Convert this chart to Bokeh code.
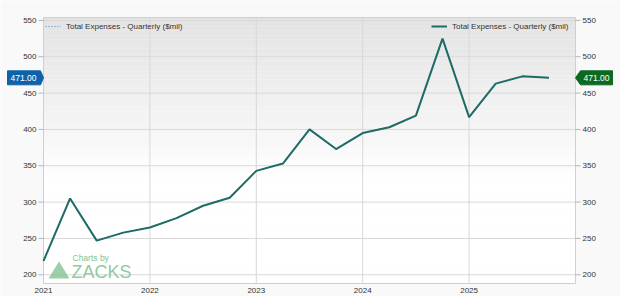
from bokeh.plotting import figure
from bokeh.models import (Legend, LegendItem, Label, PolyAnnotation, Range1d,
                          ColumnDataSource)
from bokeh.core.properties import value
from bokeh.embed import file_html
from bokeh.resources import INLINE

# ---- data ----
quarter_x = [2021.0, 2021.25, 2021.5, 2021.75,
             2022.0, 2022.25, 2022.5, 2022.75,
             2023.0, 2023.25, 2023.5, 2023.75,
             2024.0, 2024.25, 2024.5, 2024.75,
             2025.0, 2025.25, 2025.5, 2025.75]
expenses = [219, 305, 247, 258,
            265, 278, 295, 306,
            343, 353, 400, 373,
            395, 403, 419, 525,
            417, 463, 473, 471]
year_ticks = [2021, 2022, 2023, 2024, 2025]
year_labels = ["2021", "2022", "2023", "2024", "2025"]
value_ticks = [200, 250, 300, 350, 400, 450, 500, 550]
value_labels = ["200", "250", "300", "350", "400", "450", "500", "550"]
series_name = "Total Expenses - Quarterly ($mil)"

FONT = "Liberation Sans"
TXT = "#333333"
LINE_COLOR = "#1f6b66"
BLUE = "#0f62a8"
GREEN = "#0b6a22"
GRID = "#d8d8d8"

W, H = 620, 296
# plot-area margins (pixels)
ML, MR, MT, MB = 43, 45, 17, 13
FW, FH = W - ML - MR, H - MT - MB

# plot-area data extent
x0, x1 = 2021.0, 2026.0
y0, y1 = 188.0, 554.0
ux = (x1 - x0) / FW   # data units per pixel
uy = (y1 - y0) / FH

p = figure(width=W, height=H, output_backend="svg", toolbar_location=None,
           x_range=Range1d(x0 - ML * ux, x1 + MR * ux),
           y_range=Range1d(y0 - MB * uy, y1 + MT * uy),
           x_axis_type=None, y_axis_type=None, min_border=0)
p.border_fill_color = "#f9f9f9"
p.background_fill_color = "#f9f9f9"
p.outline_line_color = None
p.xgrid.visible = False
p.ygrid.visible = False

# plot-area background gradient (grey at top -> white)
nb = 60
tops, bots, cols = [], [], []
for i in range(nb):
    b = y0 + (y1 - y0) * i / nb
    t = y0 + (y1 - y0) * (i + 1) / nb
    frac = (i + 0.5) / nb
    s = max(0.0, (frac - 0.4) / 0.6)
    g = int(round(255 - 28 * s ** 0.9))
    tops.append(t); bots.append(b); cols.append("#%02x%02x%02x" % (g, g, g))
p.quad(left=x0, right=x1, top=tops, bottom=bots, fill_color=cols, line_color=None)

# grid lines
p.segment(x0=year_ticks, x1=year_ticks, y0=y0, y1=y1, line_color=GRID, line_width=1)
p.segment(x0=x0, x1=x1, y0=value_ticks, y1=value_ticks, line_color=GRID, line_width=1)
# frame border
p.quad(left=x0, right=x1, top=y1, bottom=y0, fill_color=None, line_color="#cfcfcf",
       line_width=1)

# y tick marks (both sides)
p.segment(x0=x0 - 5 * ux, x1=x0, y0=value_ticks, y1=value_ticks, line_color="#b5b5b5")
p.segment(x0=x1, x1=x1 + 5 * ux, y0=value_ticks, y1=value_ticks, line_color="#b5b5b5")

txt_kw = dict(text_font=value(FONT), text_font_size=value("8px"), text_color=TXT)
# left y labels
p.text(x=x0 - 7 * ux, y=value_ticks, text=value_labels, text_align="right",
       text_baseline="middle", **txt_kw)
# right y labels
p.text(x=x1 + 7 * ux, y=value_ticks, text=value_labels, text_align="left",
       text_baseline="middle", **txt_kw)
# x labels
p.text(x=year_ticks, y=y0 - 6.5 * uy, text=year_labels, text_align="center",
       text_baseline="middle", **txt_kw)

# series
src = ColumnDataSource(dict(x=quarter_x, y=expenses))
r_blue = p.line("x", "y", source=src, line_color="#4a86cc", line_width=1.2,
                line_dash="1 2")
r_green = p.line("x", "y", source=src, line_color=LINE_COLOR, line_width=2)

def mk_legend(item, loc):
    return Legend(items=[item], location=loc, border_line_color=None,
                  background_fill_alpha=0, label_text_font=FONT,
                  label_text_font_size="8px", label_text_color=TXT,
                  glyph_width=16, glyph_height=8, label_standoff=5,
                  padding=2, margin=0, spacing=0, label_height=10)

p.add_layout(mk_legend(LegendItem(label=series_name, renderers=[r_blue]), (ML + 2, H - 31)))
p.add_layout(mk_legend(LegendItem(label=series_name, renderers=[r_green]), (431, H - 31)))

# last-value tags
last = expenses[-1]
h = 7 * uy
tag_txt = f"{last:.2f}"
p.add_layout(PolyAnnotation(
    xs=[x0 - 36 * ux, x0 - 3 * ux, x0, x0 - 3 * ux, x0 - 36 * ux],
    ys=[last + h, last + h, last, last - h, last - h],
    fill_color=BLUE, fill_alpha=1, line_color=BLUE, line_alpha=1))
p.add_layout(PolyAnnotation(
    xs=[x1, x1 + 5 * ux, x1 + 37 * ux, x1 + 37 * ux, x1 + 5 * ux],
    ys=[last, last + h, last + h, last - h, last - h],
    fill_color=GREEN, fill_alpha=1, line_color=GREEN, line_alpha=1))
p.add_layout(Label(x=x0 - 20 * ux, y=last, text=tag_txt, text_align="center",
                   text_baseline="middle", text_color="white", text_font=FONT,
                   text_font_size="8.5px", level="overlay"))
p.add_layout(Label(x=x1 + 21 * ux, y=last, text=tag_txt, text_align="center",
                   text_baseline="middle", text_color="white", text_font=FONT,
                   text_font_size="8.5px", level="overlay"))

# watermark
WM = "#84c292"
p.add_layout(PolyAnnotation(xs=[48, 58.5, 69], ys=[H - 278, H - 261, H - 278],
                            xs_units="screen", ys_units="screen", fill_color=WM,
                            fill_alpha=0.8, line_color=None))
p.add_layout(Label(x=72, y=H - 257, x_units="screen", y_units="screen", text="Charts by",
                   text_font=FONT, text_font_size="8.5px", text_color=WM,
                   text_baseline="middle"))
p.add_layout(Label(x=71, y=H - 271.5, x_units="screen", y_units="screen", text="ZACKS",
                   text_font=FONT, text_font_size="18px", text_color=WM, text_alpha=0.9,
                   text_baseline="middle"))

open("out.html", "w").write(file_html(p, INLINE))
